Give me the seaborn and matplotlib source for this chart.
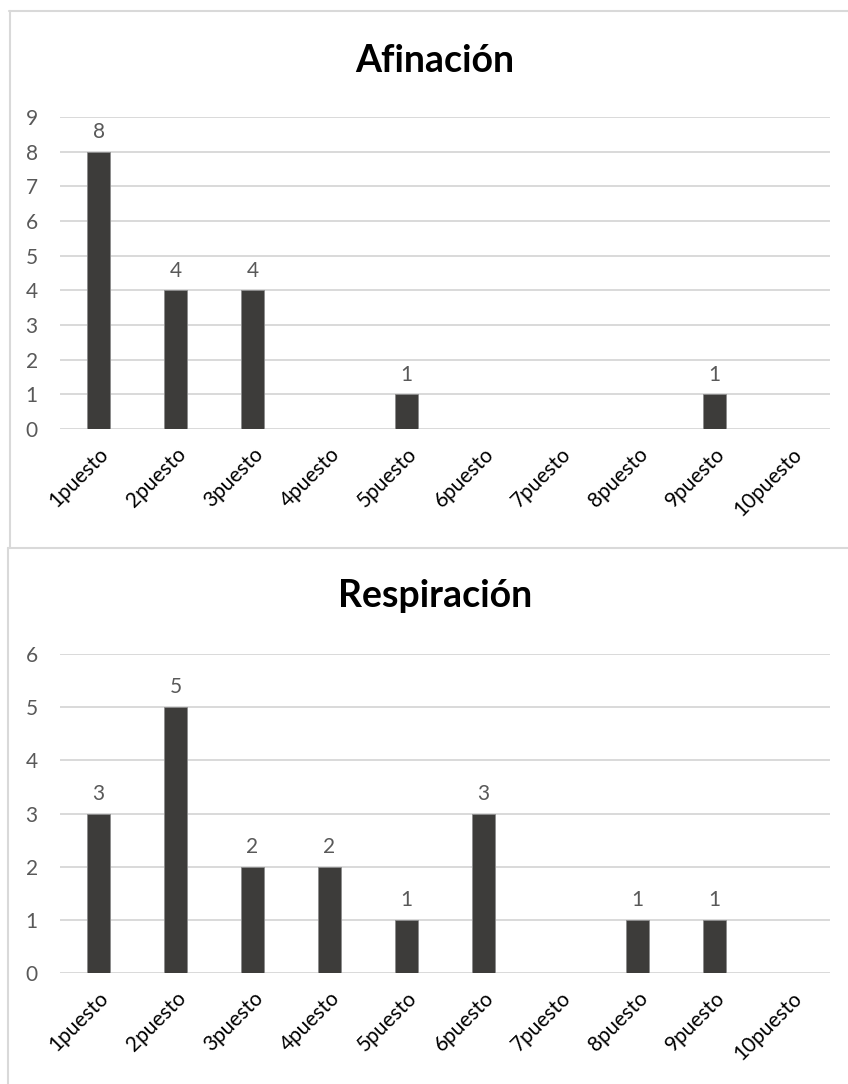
import matplotlib
matplotlib.use("Agg")
import matplotlib.pyplot as plt
import seaborn as sns
from matplotlib.lines import Line2D

categorias = ["1puesto", "2puesto", "3puesto", "4puesto", "5puesto",
              "6puesto", "7puesto", "8puesto", "9puesto", "10puesto"]
afinacion = [8, 4, 4, 0, 1, 0, 0, 0, 1, 0]
respiracion = [3, 5, 2, 2, 1, 3, 0, 1, 1, 0]

sns.set_theme(style="white")
plt.rcParams['font.family'] = ['Lato', 'DejaVu Sans']

BAR = "#3d3c3a"
GRID = "#d9d9d9"
TXT = "#595959"

fig = plt.figure(figsize=(8.48, 10.84), dpi=100)


def draw_chart(ax, valores, titulo, ymax, title_y):
    sns.barplot(x=categorias, y=valores, color=BAR, width=0.31, ax=ax,
                edgecolor="#8c8c8c", linewidth=0.6, saturation=1)
    ax.set_ylim(0, ymax)
    ax.set_yticks(range(0, ymax + 1))
    ax.grid(axis="y", color=GRID, linewidth=1.4)
    ax.set_axisbelow(True)
    for s in ax.spines.values():
        s.set_visible(False)
    ax.tick_params(axis="y", length=0, pad=16, labelsize=15, labelcolor=TXT)
    ax.tick_params(axis="x", length=0, pad=11, labelsize=15, labelcolor="black")
    plt.setp(ax.get_xticklabels(), rotation=45, ha="right", rotation_mode="anchor")
    ax.set_xlabel("")
    ax.set_ylabel("")
    cont = ax.containers[0]
    etiquetas = [str(v) if v > 0 else "" for v in valores]
    ax.bar_label(cont, labels=etiquetas, padding=7, fontsize=15, color=TXT)
    fig.text(0.513, title_y, titulo, ha="center", va="baseline",
             fontsize=27, fontweight="bold", color="black")


ax1 = fig.add_axes([60 / 848, 1 - 429 / 1084, 770 / 848, 312 / 1084])
draw_chart(ax1, afinacion, "Afinación", 9, 1 - 72 / 1084)

ax2 = fig.add_axes([60 / 848, 1 - 973 / 1084, 770 / 848, 319 / 1084])
draw_chart(ax2, respiracion, "Respiración", 6, 1 - 607 / 1084)

# chart borders
def hline(y, x0, x1):
    fig.add_artist(Line2D([x0 / 848, x1 / 848], [1 - y / 1084, 1 - y / 1084],
                          color=GRID, linewidth=1.5))


def vline(x, y0, y1):
    fig.add_artist(Line2D([x / 848, x / 848], [1 - y0 / 1084, 1 - y1 / 1084],
                          color=GRID, linewidth=1.5))


hline(11, 9, 848)
vline(9.5, 11, 548)
hline(548, 8, 848)
vline(8, 548, 1084)

fig.savefig("out.png", dpi=100, facecolor="white")
